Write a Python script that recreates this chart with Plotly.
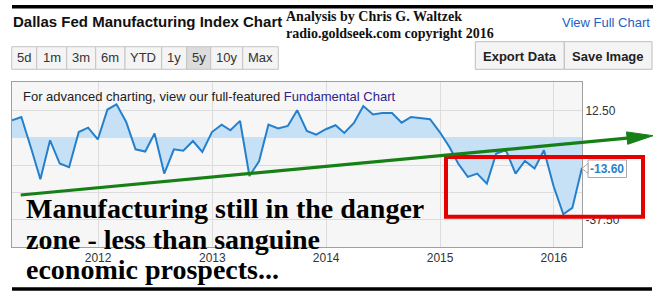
import plotly.graph_objects as go
import pandas as pd

# ---- data ----
months = pd.date_range("2011-03-31", periods=61, freq="ME")
index_values = [
    8.1, 9.6, -4.6, -18.9, -1.1, -11.7, -13.4, 2.7, 4.7, -0.7,
    13.0, 15.4, 7.3, -5.2, -6.2, 2.0, -16.3, -5.2, -5.8, -1.4,
    -6.4, 2.7, 6.1, 3.5, 7.8, -17.4, -10.7, 6.1, 4.3, 5.5,
    12.7, 3.2, 1.5, 4.0, 5.8, 2.3, 6.9, 14.6, 10.7, 11.4,
    11.4, 7.0, 9.6, 9.2, 8.6, 2.7, -4.1, -11.7, -17.8, -16.3,
    -20.9, -7.1, -5.6, -16.3, -10.5, -14.0, -5.6, -22.1, -34.9, -32.0,
    -13.6,
]
y_tickvals = [12.5, 0, -12.5, -25, -37.5]
y_ticktext = ["12.50", "", "", "", "-37.50"]
range_buttons = ["5d", "1m", "3m", "6m", "YTD", "1y", "5y", "10y", "Max"]
last_label = "-13.60"

W, H = 664, 295
L, R, T, B = 12, 582, 82, 247


def px(x):
    return (x - L) / (R - L)


def py(y):
    return (B - y) / (B - T)


SANS = "Liberation Sans, Arial, sans-serif"
SERIF = "Liberation Serif, Times New Roman, serif"

fig = go.Figure()
fig.add_trace(go.Scatter(
    x=months, y=index_values, mode="lines",
    line=dict(color="rgb(36,128,204)", width=2),
    fill="tozeroy", fillcolor="rgb(198,224,245)",
    hoverinfo="skip",
))

shapes = []
annotations = []

# thick black rules
shapes.append(dict(type="line", xref="paper", yref="paper", x0=px(12), x1=px(653), y0=py(6.7), y1=py(6.7),
                   line=dict(color="black", width=3.5)))
shapes.append(dict(type="line", xref="paper", yref="paper", x0=px(12), x1=px(652), y0=py(289), y1=py(289),
                   line=dict(color="black", width=3.5)))

# header texts
annotations.append(dict(xref="paper", yref="paper", x=px(11), y=py(21.5), xanchor="left", yanchor="middle",
                        text="<b>Dallas Fed Manufacturing Index Chart</b>", showarrow=False,
                        font=dict(family=SANS, size=15, color="#111")))
annotations.append(dict(xref="paper", yref="paper", x=px(284), y=py(16), xanchor="left", yanchor="middle",
                        text="<b>Analysis by Chris G. Waltzek</b>", showarrow=False,
                        font=dict(family=SERIF, size=14, color="#111")))
annotations.append(dict(xref="paper", yref="paper", x=px(284), y=py(33), xanchor="left", yanchor="middle",
                        text="<b>radio.goldseek.com copyright 2016</b>", showarrow=False,
                        font=dict(family=SERIF, size=14, color="#111")))
annotations.append(dict(xref="paper", yref="paper", x=px(652), y=py(22), xanchor="right", yanchor="middle",
                        text="View Full Chart", showarrow=False,
                        font=dict(family=SANS, size=13, color="rgb(35,95,195)")))

# range buttons
edges = [11.7, 36.7, 66.7, 95.7, 125, 161.7, 186.7, 210.7, 242.7, 278.3]
for i, lab in enumerate(range_buttons):
    x0, x1 = edges[i], edges[i + 1]
    shapes.append(dict(type="rect", xref="paper", yref="paper", x0=px(x0), x1=px(x1), y0=py(69.3), y1=py(46.7),
                       line=dict(color="#c4c4c4", width=1),
                       fillcolor="#dcdcdc" if lab == "5y" else "#f4f4f4"))
    annotations.append(dict(xref="paper", yref="paper", x=px((x0 + x1) / 2), y=py(58), xanchor="center",
                            yanchor="middle", text=lab, showarrow=False,
                            font=dict(family=SANS, size=13, color="#333")))

for x0, x1, lab in [(475.3, 564.3, "Export Data"), (564.3, 652, "Save Image")]:
    shapes.append(dict(type="rect", xref="paper", yref="paper", x0=px(x0), x1=px(x1), y0=py(69.3), y1=py(41.7),
                       line=dict(color="#bdbdbd", width=1), fillcolor="#f4f4f4"))
    annotations.append(dict(xref="paper", yref="paper", x=px((x0 + x1) / 2), y=py(56), xanchor="center",
                            yanchor="middle", text="<b>" + lab + "</b>", showarrow=False,
                            font=dict(family=SANS, size=13, color="#222")))

# in-chart note
annotations.append(dict(xref="paper", yref="paper", x=px(20.5), y=py(96), xanchor="left", yanchor="middle",
                        text="For advanced charting, view our full-featured "
                             "<span style='color:rgb(45,35,145)'>Fundamental Chart</span>",
                        showarrow=False, font=dict(family=SANS, size=13, color="#222")))

# last value label
shapes.append(dict(type="rect", xref="paper", yref="paper", x0=px(588), x1=px(626.5), y0=py(177.5), y1=py(160),
                   line=dict(color="#aaaaaa", width=1), fillcolor="white"))
shapes.append(dict(type="path", xref="paper", yref="paper",
                   path=f"M {px(588)},{py(163.5)} L {px(582)},{py(168.5)} L {px(588)},{py(173.5)} Z",
                   line=dict(color="#aaaaaa", width=1), fillcolor="white"))
annotations.append(dict(xref="paper", yref="paper", x=px(607), y=py(168.7), xanchor="center", yanchor="middle",
                        text="<b>" + last_label + "</b>", showarrow=False,
                        font=dict(family=SANS, size=12, color="rgb(40,130,200)")))

# red box
shapes.append(dict(type="rect", xref="paper", yref="paper", x0=px(446), x1=px(643), y0=py(216.7), y1=py(157),
                   line=dict(color="rgb(228,0,0)", width=4)))

# green arrow
sx, sy = 20.7, 195.0
bx, by = 627.1, 138.1
shapes.append(dict(type="line", xref="paper", yref="paper", x0=px(sx), y0=py(sy), x1=px(bx), y1=py(by),
                   line=dict(color="rgb(22,128,22)", width=3.2)))
shapes.append(dict(type="path", xref="paper", yref="paper",
                   path=f"M {px(627.7)},{py(144.3)} L {px(653)},{py(135.7)} L {px(626.5)},{py(131.9)} Z",
                   line=dict(color="rgb(22,128,22)", width=1), fillcolor="rgb(22,128,22)"))

# big commentary
for txt, cy in [("Manufacturing still in the danger", 208),
                ("zone - less than sanguine", 239.5),
                ("economic prospects...", 269)]:
    annotations.append(dict(xref="paper", yref="paper", x=px(24), y=py(cy), xanchor="left", yanchor="middle",
                            text="<b>" + txt + "</b>", showarrow=False,
                            font=dict(family=SERIF, size=28, color="black")))

fig.update_layout(
    width=W, height=H, autosize=False,
    margin=dict(l=L, r=W - R, t=T, b=H - B, pad=0),
    paper_bgcolor="white", plot_bgcolor="rgb(246,246,246)",
    showlegend=False,
    shapes=shapes, annotations=annotations,
    xaxis=dict(range=[months[0], months[-1]], tick0="2012-01-01", dtick="M12", tickformat="%Y",
               showgrid=True, gridcolor="#dcdcdc", gridwidth=1, ticks="",
               showline=True, linecolor="#a0a0a0", linewidth=1, mirror=True,
               tickfont=dict(family=SANS, size=12, color="#333"), zeroline=False),
    yaxis=dict(range=[-49.9, 25.6], side="right", tickvals=y_tickvals, ticktext=y_ticktext,
               showgrid=True, gridcolor="#dcdcdc", gridwidth=1, ticks="",
               showline=True, linecolor="#a0a0a0", linewidth=1, mirror=True, zeroline=False,
               tickfont=dict(family=SANS, size=12, color="#333")),
)

fig.write_html("out.html")
